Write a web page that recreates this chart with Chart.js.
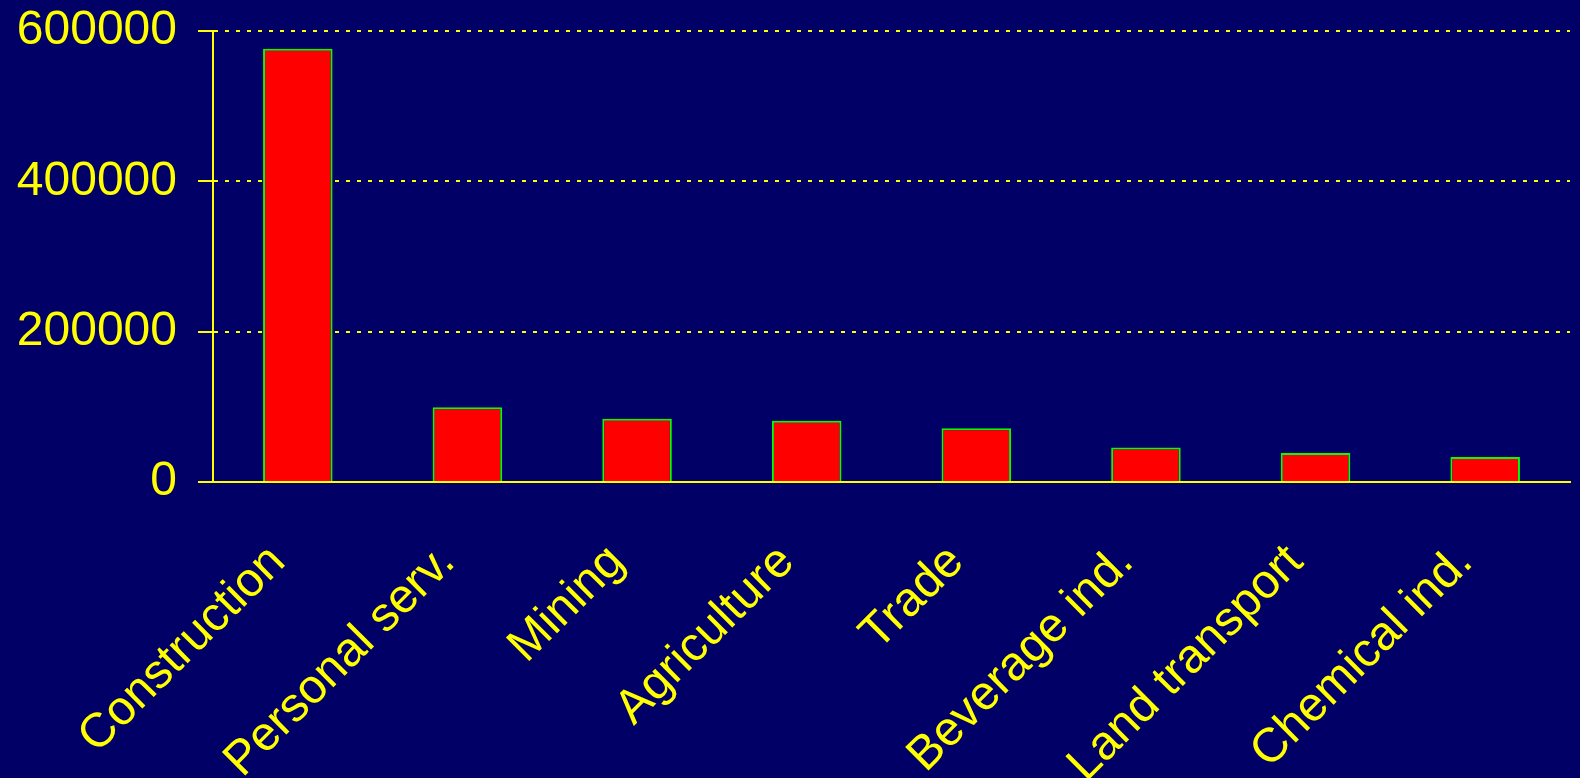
<!DOCTYPE html>
<html>
<head>
<meta charset="utf-8">
<script src="https://cdn.jsdelivr.net/npm/chart.js@4"></script>
<style>
  html, body { margin: 0; padding: 0; background: #000066; }
  #wrap { width: 1580px; height: 778px; }
</style>
</head>
<body>
<div id="wrap"><canvas id="chart"></canvas></div>
<script>
"use strict";

// categories and values
const categories = ["Construction", "Personal serv.", "Mining", "Agriculture", "Trade", "Beverage ind.", "Land transport", "Chemical ind."];
const values = [576500, 99500, 84300, 81600, 71400, 46000, 38500, 33300];
const yTicks = [0, 200000, 400000, 600000];

const YELLOW = "#ffff00";
const FONT = "'Liberation Sans', Arial, sans-serif";

new Chart(document.getElementById("chart"), {
  type: "bar",
  data: {
    labels: categories,
    datasets: [{
      data: values,
      backgroundColor: "#ff0000",
      borderColor: "#00ff00",
      borderWidth: 2,
      borderSkipped: "bottom",
      categoryPercentage: 1,
      barPercentage: 0.41
    }]
  },
  options: {
    responsive: true,
    maintainAspectRatio: false,
    animation: false,
    layout: { padding: { top: 31, right: 10, left: 0, bottom: 0 } },
    plugins: {
      legend: { display: false },
      tooltip: { enabled: false }
    },
    scales: {
      x: {
        grid: { display: false, drawTicks: false },
        border: { display: true, color: YELLOW, width: 2 },
        ticks: {
          color: YELLOW,
          font: { family: FONT, size: 48 },
          minRotation: 45,
          maxRotation: 45,
          autoSkip: false,
          padding: 52,
          labelOffset: -20
        },
        afterFit(scale) {
          scale.height = 296;
          scale.paddingLeft = 0;
          scale.paddingRight = 0;
        }
      },
      y: {
        min: 0,
        max: 600000,
        afterBuildTicks(scale) { scale.ticks = yTicks.map(v => ({ value: v })); },
        grid: {
          color: YELLOW,
          lineWidth: 2,
          tickLength: 15,
          tickColor: YELLOW,
          tickWidth: 2,
          tickBorderDash: []
        },
        border: { display: true, color: YELLOW, width: 2, dash: [4, 7] },
        ticks: {
          color: YELLOW,
          font: { family: FONT, size: 48 },
          padding: 21,
          callback: v => String(v)
        },
        afterFit(scale) {
          scale.width = 213;
          scale.paddingTop = 0;
          scale.paddingBottom = 0;
        }
      }
    }
  }
});
</script>
</body>
</html>
